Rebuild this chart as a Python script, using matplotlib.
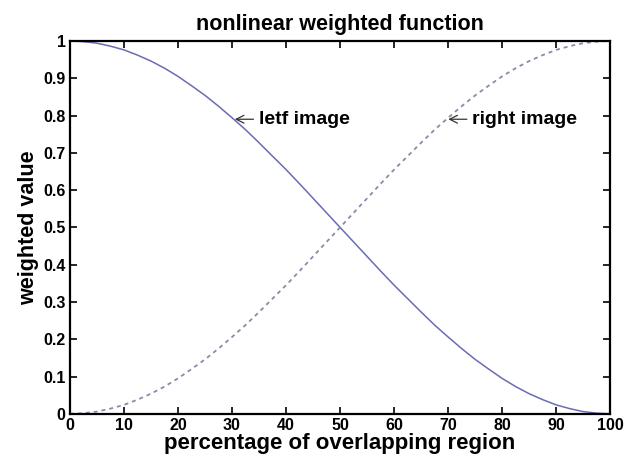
import matplotlib
matplotlib.use('Agg')
import matplotlib.pyplot as plt

plt.rcParams['font.family'] = ['Liberation Sans', 'DejaVu Sans']

# 读取的曲线数值
x_vals = [0, 2.5, 5, 7.5, 10, 12.5, 15, 17.5, 20, 22.5, 25, 27.5, 30, 32.5, 35, 37.5, 40,
          42.5, 45, 47.5, 50, 52.5, 55, 57.5, 60, 62.5, 65, 67.5, 70, 72.5, 75, 77.5,
          80, 82.5, 85, 87.5, 90, 92.5, 95, 97.5, 100]
right_w = [0.0, 0.002, 0.006, 0.014, 0.024, 0.038, 0.054, 0.073, 0.095, 0.120, 0.146,
           0.175, 0.206, 0.238, 0.273, 0.309, 0.345, 0.383, 0.422, 0.461, 0.500,
           0.539, 0.578, 0.617, 0.655, 0.691, 0.727, 0.762, 0.794, 0.825, 0.854,
           0.880, 0.905, 0.927, 0.946, 0.962, 0.976, 0.986, 0.994, 0.998, 1.0]
left_w = [1.0, 0.998, 0.994, 0.986, 0.976, 0.962, 0.946, 0.927, 0.905, 0.880, 0.854,
          0.825, 0.794, 0.762, 0.727, 0.691, 0.655, 0.617, 0.578, 0.539, 0.500,
          0.461, 0.422, 0.383, 0.345, 0.309, 0.273, 0.238, 0.206, 0.175, 0.146,
          0.120, 0.095, 0.073, 0.054, 0.038, 0.024, 0.014, 0.006, 0.002, 0.0]
x_ticks = list(range(0, 101, 10))
y_ticks = [0, 0.1, 0.2, 0.3, 0.4, 0.5, 0.6, 0.7, 0.8, 0.9, 1]
y_ticklabels = ['0', '0.1', '0.2', '0.3', '0.4', '0.5', '0.6', '0.7', '0.8', '0.9', '1']

fig = plt.figure(figsize=(6.24, 4.65), dpi=100)
ax = fig.add_axes([0.112, 0.11, 0.866, 0.802])

ax.plot(x_vals, left_w, color='#6b6bb3', linewidth=1.1)
ax.plot(x_vals, right_w, color='#8a8aaa', linewidth=1.3, linestyle=(0, (2.2, 2.2)))

ax.set_xlim(0, 100)
ax.set_ylim(0, 1)
ax.set_xticks(x_ticks)
ax.set_yticks(y_ticks)
ax.set_yticklabels(y_ticklabels)
ax.tick_params(direction='in', top=True, right=True, length=5, width=1.2,
               labelsize=11.5, pad=3)
for lab in ax.get_xticklabels() + ax.get_yticklabels():
    lab.set_fontweight('bold')
for sp in ax.spines.values():
    sp.set_linewidth(1.6)

ax.set_title('nonlinear weighted function', fontsize=15.5, fontweight='bold', pad=8)
ax.set_xlabel('percentage of overlapping region', fontsize=16, fontweight='bold', labelpad=0)
ax.set_ylabel('weighted value', fontsize=15.5, fontweight='bold', labelpad=3)

ax.annotate('letf image', xy=(30, 0.79), xytext=(35, 0.79), fontsize=14, fontweight='bold',
            va='center', arrowprops=dict(arrowstyle='->', color='#333333', lw=0.9))
ax.annotate('right image', xy=(69.5, 0.79), xytext=(74.5, 0.79), fontsize=14, fontweight='bold',
            va='center', arrowprops=dict(arrowstyle='->', color='#333333', lw=0.9))

fig.savefig('out.png', dpi=100)
